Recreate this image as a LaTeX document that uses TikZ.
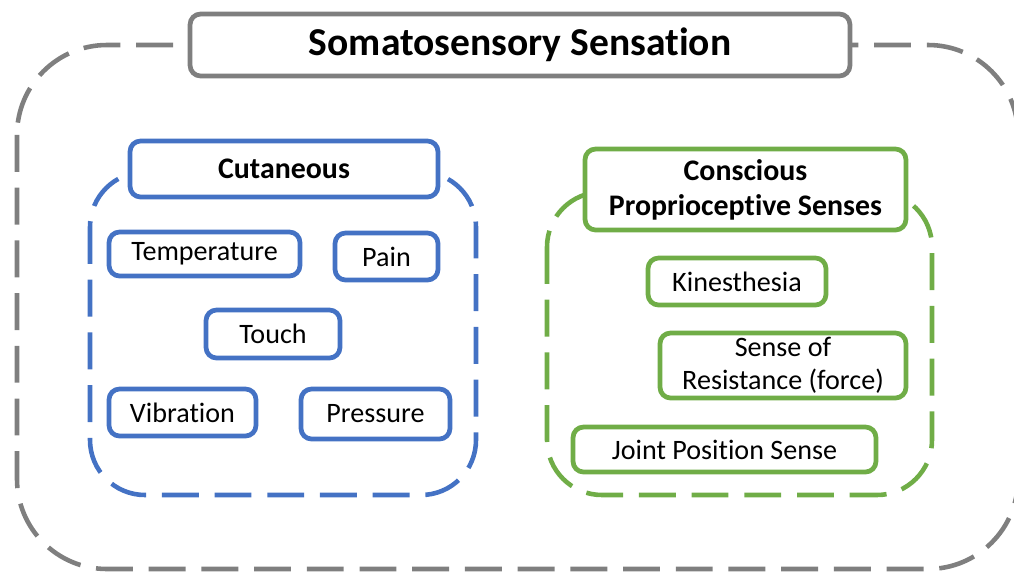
\documentclass[tikz,border=0pt]{standalone}
\usepackage{fontspec}
\setmainfont{Carlito}[Ligatures=NoCommon]
\definecolor{boxgray}{HTML}{7F7F7F}
\definecolor{boxblue}{HTML}{4472C4}
\definecolor{boxgreen}{HTML}{70AD47}
\begin{document}
\begin{tikzpicture}[x=0.02cm, y=-0.02cm]
	\tikzstyle{every node}=[inner sep=1pt, align=center, font=\fontsize{16}{19}\selectfont]
	\tikzstyle{item}=[draw, line width=2.7pt, rounded corners=6pt, fill=white, text=black]
	\tikzstyle{group}=[line width=2.6pt, dash pattern=on 21pt off 9pt]
	\useasboundingbox (0, 0) rectangle (1014, 572);
	% dashed containers
	\draw [group, boxgray, rounded corners=1.8cm] (17, 45) rectangle (1018, 569);
	\draw [group, boxblue, rounded corners=1.1cm] (90, 172) rectangle (476, 495);
	\draw [group, boxgreen, rounded corners=1.1cm] (547, 192) rectangle (932, 495);
	% titles
	\node [item, draw=boxgray, minimum width=13.2cm, minimum height=1.24cm, font=\fontsize{22.5}{27}\selectfont\bfseries] (soma) at (520, 45) {Somatosensory Sensation};
	\node [item, draw=boxblue, minimum width=6.16cm, minimum height=1.12cm, font=\fontsize{17}{20}\selectfont\bfseries] (cut) at (284, 169) {Cutaneous};
	\node [item, draw=boxgreen, minimum width=6.42cm, minimum height=1.62cm, font=\fontsize{17}{20}\selectfont\bfseries] (prop) at (745.5, 189.5) {Conscious\\Proprioceptive Senses};
	% cutaneous senses
	\node [item, draw=boxblue, minimum width=3.82cm, minimum height=0.88cm] (temp) at (204.5, 254) {Temperature};
	\node [item, draw=boxblue, minimum width=2.06cm, minimum height=0.94cm] (pain) at (386.5, 256.5) {Pain};
	\node [item, draw=boxblue, minimum width=2.68cm, minimum height=0.96cm] (touch) at (273, 334) {Touch};
	\node [item, draw=boxblue, minimum width=2.94cm, minimum height=0.94cm] (vib) at (182.5, 412.5) {Vibration};
	\node [item, draw=boxblue, minimum width=2.98cm, minimum height=1.0cm] (press) at (375.5, 414) {Pressure};
	% proprioceptive senses
	\node [item, draw=boxgreen, minimum width=3.56cm, minimum height=0.94cm] (kin) at (737, 281.5) {Kinesthesia};
	\node [item, draw=boxgreen, minimum width=4.92cm, minimum height=1.3cm] (res) at (783, 365.5) {Sense of\\Resistance (force)};
	\node [item, draw=boxgreen, minimum width=6.06cm, minimum height=0.9cm] (joint) at (724.5, 449.5) {Joint Position Sense};
\end{tikzpicture}
\end{document}
